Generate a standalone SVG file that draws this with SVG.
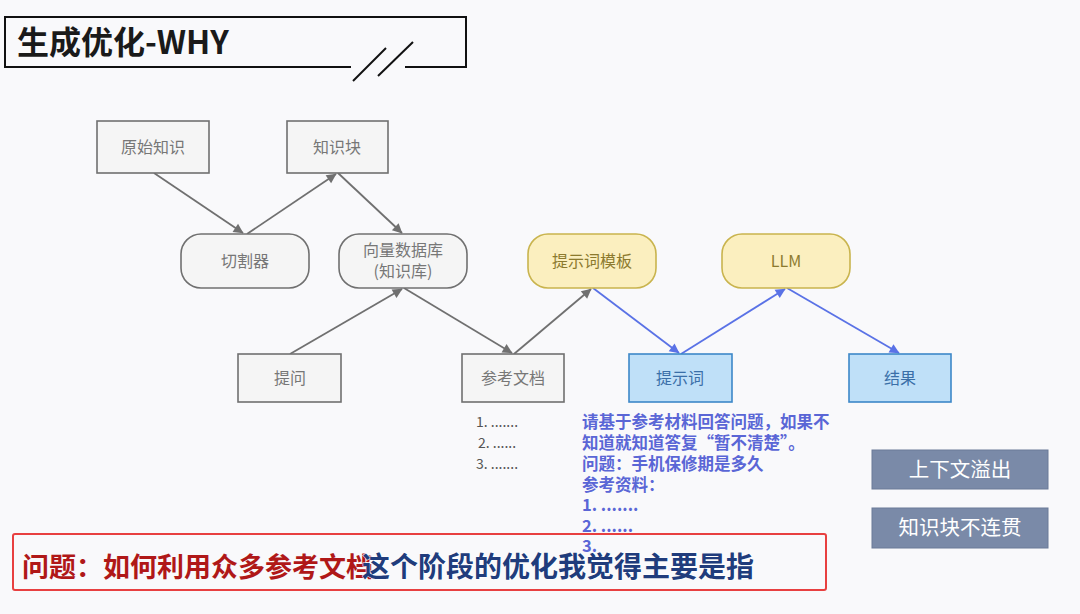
<svg xmlns="http://www.w3.org/2000/svg" width="1080" height="614" viewBox="0 0 1080 614">
<defs>
<style>
.t{font-family:"Noto Sans CJK SC","Liberation Sans",sans-serif;}
.g rect{fill:#f5f5f5;stroke:#707070;stroke-width:1.6}
.g text{fill:#777777;font-size:16px;text-anchor:middle}
.y rect{fill:#fbefbf;stroke:#c9b44e;stroke-width:1.6}
.y text{fill:#8c7a2e;font-size:16px;text-anchor:middle}
.b rect{fill:#bfe0f8;stroke:#3d88c8;stroke-width:1.6}
.b text{fill:#3a6fa8;font-size:16px;text-anchor:middle}
.s rect{fill:#7a8aa8;stroke:#6a7a98;stroke-width:1}
.s text{fill:#ffffff;font-size:20.5px;text-anchor:middle}
.cg{stroke:#707070;stroke-width:1.8;fill:none;marker-end:url(#ag)}
.cb{stroke:#5a72e6;stroke-width:1.8;fill:none;marker-end:url(#ab)}
.bl{fill:#5a66d6;font-size:16.5px;font-weight:bold}
.li{fill:#555;font-size:14px}
</style>
<marker id="ag" viewBox="0 0 10 10" refX="9" refY="5" markerWidth="7" markerHeight="7" markerUnits="userSpaceOnUse" orient="auto" overflow="visible"><path d="M0,0 L10,5 L0,10 z" fill="#707070" transform="scale(1.4) translate(-3,-1.4)"/></marker>
<marker id="ab" viewBox="0 0 10 10" refX="9" refY="5" markerWidth="7" markerHeight="7" markerUnits="userSpaceOnUse" orient="auto" overflow="visible"><path d="M0,0 L10,5 L0,10 z" fill="#5a72e6" transform="scale(1.4) translate(-3,-1.4)"/></marker>
</defs>
<rect width="1080" height="614" fill="#f9f9fb"/>
<g id="title">
<path d="M351,67 L5,67 L5,17 L466,17 L466,67 L405,67" fill="none" stroke="#111" stroke-width="2"/>
<line x1="353" y1="81" x2="386" y2="48" stroke="#111" stroke-width="2"/>
<line x1="378" y1="76" x2="413" y2="42" stroke="#111" stroke-width="2"/>
<text class="t" x="17" y="54" font-size="32" font-weight="bold" fill="#1a1a1a">生成优化-WHY</text>
</g>
<g id="connectors">
<line class="cg" x1="154" y1="173" x2="243" y2="233"/>
<line class="cg" x1="247" y1="234" x2="336" y2="174"/>
<line class="cg" x1="338" y1="173" x2="402" y2="233"/>
<line class="cg" x1="290" y1="354" x2="402" y2="289"/>
<line class="cg" x1="404" y1="288" x2="512" y2="353"/>
<line class="cg" x1="514" y1="354" x2="591" y2="289"/>
<line class="cb" x1="593" y1="288" x2="679" y2="353"/>
<line class="cb" x1="681" y1="354" x2="785" y2="289"/>
<line class="cb" x1="787" y1="288" x2="899" y2="353"/>
</g>
<g id="n-yuanshi" class="g t"><rect x="97" y="121" width="112" height="52"/><text x="153" y="153">原始知识</text></g>
<g id="n-zhishikuai" class="g t"><rect x="287" y="121" width="101" height="52"/><text x="337" y="153">知识块</text></g>
<g id="n-qiegeqi" class="g t"><rect x="181" y="234" width="128" height="54" rx="20"/><text x="245" y="267">切割器</text></g>
<g id="n-xiangliang" class="g t"><rect x="339" y="234" width="128" height="54" rx="20"/><text x="403" y="256">向量数据库</text><text x="403" y="277">(知识库)</text></g>
<g id="n-tiwen" class="g t"><rect x="238" y="354" width="103" height="48"/><text x="290" y="384">提问</text></g>
<g id="n-cankao" class="g t"><rect x="462" y="354" width="102" height="48"/><text x="513" y="384">参考文档</text></g>
<g id="n-list" class="t"><text class="li" x="476" y="427">1. .......</text><text class="li" x="478" y="448">2. ......</text><text class="li" x="476" y="469">3. .......</text></g>
<g id="n-muban" class="y t"><rect x="528" y="234" width="128" height="54" rx="20"/><text x="592" y="267">提示词模板</text></g>
<g id="n-llm" class="y t"><rect x="722" y="234" width="128" height="54" rx="20"/><text x="786" y="267">LLM</text></g>
<g id="n-tishici" class="b t"><rect x="629" y="354" width="103" height="48"/><text x="680" y="384">提示词</text></g>
<g id="n-jieguo" class="b t"><rect x="849" y="354" width="102" height="48"/><text x="900" y="384">结果</text></g>
<g id="n-prompt" class="t">
<text class="bl" x="582" y="428">请基于参考材料回答问题，如果不</text>
<text class="bl" x="582" y="449">知道就知道答复“暂不清楚”。</text>
<text class="bl" x="582" y="470">问题：手机保修期是多久</text>
<text class="bl" x="582" y="491">参考资料：</text>
<text class="bl" x="582" y="511">1. .......</text>
<text class="bl" x="582" y="532">2. ......</text>
<text class="bl" x="582" y="552">3.</text>
</g>
<g id="n-yichu" class="s t"><rect x="872" y="450" width="176" height="39"/><text x="960" y="477">上下文溢出</text></g>
<g id="n-bulianguan" class="s t"><rect x="872" y="508" width="176" height="40"/><text x="960" y="535">知识块不连贯</text></g>
<g id="question">
<rect x="13" y="534" width="813" height="56" fill="none" stroke="#e84040" stroke-width="2" rx="2"/>
<text class="t" x="22" y="577" font-size="27" font-weight="bold" fill="#b01818">问题：如何利用众多参考文档</text>
</g>
<g id="subtitle">
<text class="t" x="362" y="577" font-size="28" font-weight="bold" fill="#203c7c" stroke="#ffffff" stroke-width="1" paint-order="stroke">这个阶段的优化我觉得主要是指</text>
</g>
</svg>
